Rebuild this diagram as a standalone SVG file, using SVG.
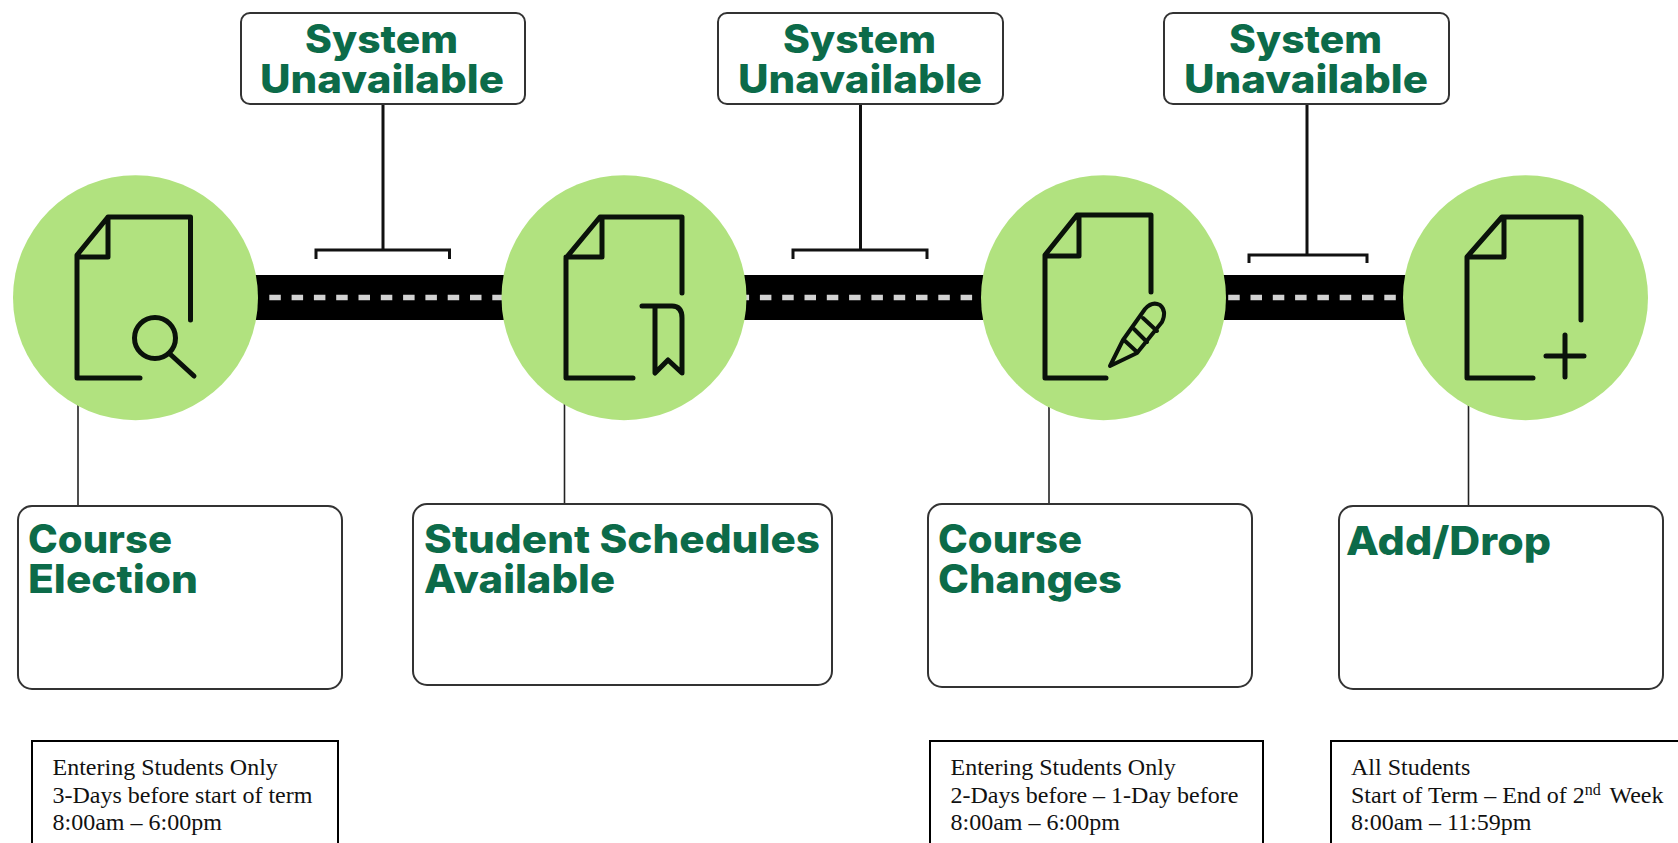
<svg xmlns="http://www.w3.org/2000/svg" width="1678" height="843" viewBox="0 0 1678 843">
<style>
.circle{fill:#b1e27f}
.icon{fill:none;stroke:#0a120a;stroke-width:5;stroke-linecap:round;stroke-linejoin:round}
.card{fill:#fff;stroke:#333;stroke-width:2}
.title{font-family:Inter,"Open Sans",sans-serif;font-weight:800;font-size:39px;fill:#0c6b49}
.note{fill:#fff;stroke:#000;stroke-width:2}
.noteText{font-family:"Liberation Serif","Times New Roman",serif;font-size:24px;fill:#111}
.lead{fill:none;stroke:#111;stroke-width:3}
.thin{fill:none;stroke:#222;stroke-width:1.6}
</style>
<rect width="1678" height="843" fill="#fff"/>
<g id="connectors">
<rect x="250" y="275" width="1170" height="45" fill="#000"/>
<path d="M269.300 297.500H1400" fill="none" stroke="#d2d2d2" stroke-width="5.500" stroke-dasharray="11.500 10.800"/>
<path class="lead" d="M383 104V250M316 259V250H449.500V259"/>
<path class="lead" d="M860.500 104V250M793 259V250H927V259"/>
<path class="lead" d="M1307 104V255M1249 263V255H1367V263"/>
<path class="thin" d="M78 405V506"/>
<path class="thin" d="M564.500 404V504"/>
<path class="thin" d="M1049 407V504"/>
<path class="thin" d="M1468.500 405V506"/>
</g>
<g id="node-search">
<circle class="circle" cx="135.500" cy="297.700" r="122.500"/>
<path class="icon" d="M190.500 320V217H108L77 255V378H140M108 217V257H77"/>
<circle class="icon" cx="155" cy="338" r="20.500"/>
<path class="icon" d="M170 354L194 376"/>
</g>
<g id="node-bookmark">
<circle class="circle" cx="624" cy="297.700" r="122.500"/>
<path class="icon" d="M682 293V217H600L566 258V378H633M602 217V257H566"/>
<path class="icon" d="M642 306H672Q682 306 682 318V373L668 360L655 373V306"/>
</g>
<g id="node-pencil">
<circle class="circle" cx="1103.500" cy="297.700" r="122.500"/>
<path class="icon" d="M1151 292V215H1077L1045 255V378H1106M1079 215V256H1045"/>
<path class="icon" style="stroke-width:4" d="M1110 366L1123 340L1145 309Q1152 301 1160 305Q1167 311 1162 322L1137 353Z"/>
<path class="icon" style="stroke-width:4" d="M1124 340L1137 352M1134 329L1147 342M1143 318L1157 331"/>
</g>
<g id="node-plus">
<circle class="circle" cx="1525.500" cy="297.700" r="122.500"/>
<path class="icon" d="M1581 320V217H1502L1467 257V378H1533M1504 217V257H1467"/>
<path class="icon" d="M1546 356H1584M1565 335V377"/>
</g>
<g id="unavailable-1">
<rect class="card" x="241" y="13" width="284" height="91" rx="9"/>
<text class="title" x="305" y="53" textLength="153" lengthAdjust="spacingAndGlyphs">System</text>
<text class="title" x="260" y="93" textLength="244" lengthAdjust="spacingAndGlyphs">Unavailable</text>
</g>
<g id="unavailable-2">
<rect class="card" x="718" y="13" width="285" height="91" rx="9"/>
<text class="title" x="783" y="53" textLength="153" lengthAdjust="spacingAndGlyphs">System</text>
<text class="title" x="738" y="93" textLength="244" lengthAdjust="spacingAndGlyphs">Unavailable</text>
</g>
<g id="unavailable-3">
<rect class="card" x="1164" y="13" width="285" height="91" rx="9"/>
<text class="title" x="1229" y="53" textLength="153" lengthAdjust="spacingAndGlyphs">System</text>
<text class="title" x="1184" y="93" textLength="244" lengthAdjust="spacingAndGlyphs">Unavailable</text>
</g>
<g id="course-election">
<rect class="card" x="18" y="506" width="324" height="183" rx="14"/>
<text class="title" x="28" y="553" textLength="144" lengthAdjust="spacingAndGlyphs">Course</text>
<text class="title" x="28" y="593" textLength="170" lengthAdjust="spacingAndGlyphs">Election</text>
</g>
<g id="student-schedules">
<rect class="card" x="413" y="504" width="419" height="181" rx="14"/>
<text class="title" x="424" y="553" textLength="396" lengthAdjust="spacingAndGlyphs">Student Schedules</text>
<text class="title" x="424" y="593" textLength="191" lengthAdjust="spacingAndGlyphs">Available</text>
</g>
<g id="course-changes">
<rect class="card" x="928" y="504" width="324" height="183" rx="14"/>
<text class="title" x="938" y="553" textLength="144" lengthAdjust="spacingAndGlyphs">Course</text>
<text class="title" x="938" y="593" textLength="184" lengthAdjust="spacingAndGlyphs">Changes</text>
</g>
<g id="add-drop">
<rect class="card" x="1339" y="506" width="324" height="183" rx="14"/>
<text class="title" x="1346" y="555" textLength="205" lengthAdjust="spacingAndGlyphs">Add/Drop</text>
</g>
<g id="note-1">
<rect class="note" x="32" y="741" width="306" height="110"/>
<text class="noteText" x="52.500" y="775">Entering Students Only</text>
<text class="noteText" x="52.500" y="802.500">3-Days before start of term</text>
<text class="noteText" x="52.500" y="830">8:00am – 6:00pm</text>
</g>
<g id="note-2">
<rect class="note" x="930" y="741" width="333" height="110"/>
<text class="noteText" x="950.500" y="775">Entering Students Only</text>
<text class="noteText" x="950.500" y="802.500">2-Days before – 1-Day before</text>
<text class="noteText" x="950.500" y="830">8:00am – 6:00pm</text>
</g>
<g id="note-3">
<rect class="note" x="1331" y="741" width="360" height="110"/>
<text class="noteText" x="1351" y="775">All Students</text>
<text class="noteText" x="1351" y="802.500">Start of Term – End of 2<tspan font-size="16" dy="-8">nd</tspan><tspan dy="8" dx="3"> Week</tspan></text>
<text class="noteText" x="1351" y="830">8:00am – 11:59pm</text>
</g>
</svg>
